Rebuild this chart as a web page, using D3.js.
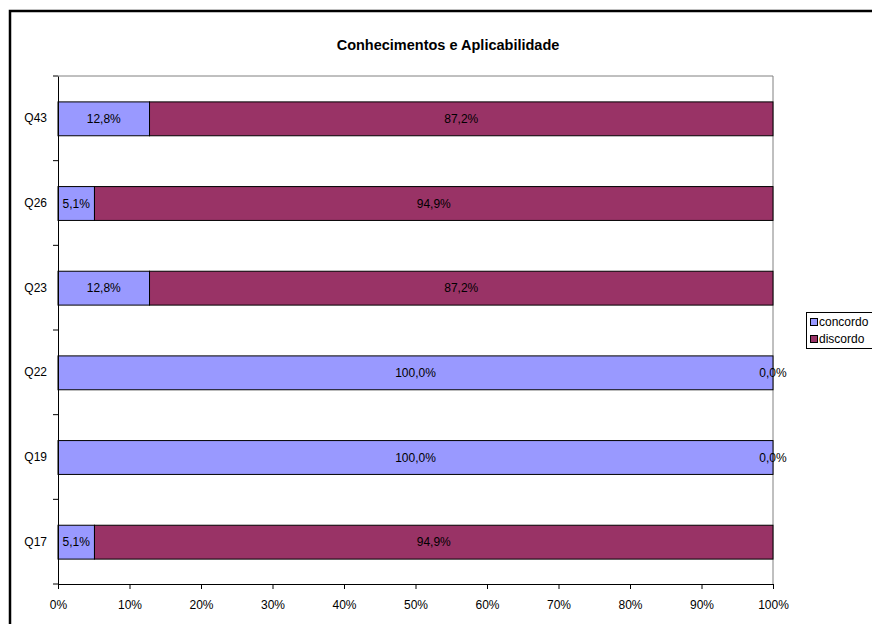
<!DOCTYPE html>
<html><head><meta charset="utf-8">
<script src="https://cdn.jsdelivr.net/npm/d3@7"></script>
<style>body{margin:0;background:#fff}svg{display:block;font-family:"Liberation Sans",Arial,sans-serif}</style>
</head><body><svg id="c" width="872" height="624"></svg>
<script>
const categories = ["Q43","Q26","Q23","Q22","Q19","Q17"];
const concordo = [12.8, 5.1, 12.8, 100.0, 100.0, 5.1];
const discordo = [87.2, 94.9, 87.2, 0.0, 0.0, 94.9];
const seriesNames = ["concordo","discordo"];
const seriesColors = ["#9999FF","#993366"];
const xTicks = [0,10,20,30,40,50,60,70,80,90,100];
const title = "Conhecimentos e Aplicabilidade";

const svg = d3.select("#c");
const m = {l:58, r:872-773, t:76, b:624-584};
const W = 872, H = 624;
// outer frame
svg.append("rect").attr("x",10).attr("y",11).attr("width",W).attr("height",H)
  .attr("fill","none").attr("stroke","#000").attr("stroke-width",2.5);

const x = d3.scaleLinear().domain([0,100]).range([m.l, W-m.r]);
const y = d3.scaleBand().domain(categories).range([m.t, H-m.b]).paddingInner(0.6).paddingOuter(0.3);

// plot area border (top & right gray)
svg.append("line").attr("x1",x(0)).attr("x2",x(100)).attr("y1",m.t).attr("y2",m.t).attr("stroke","#808080");
svg.append("line").attr("x1",x(100)).attr("x2",x(100)).attr("y1",m.t).attr("y2",H-m.b).attr("stroke","#808080");

const fmt = v => v.toFixed(1).replace(".",",") + "%";
const rows = categories.map((c,i)=>({c, vals:[concordo[i], discordo[i]]}));
rows.forEach(r=>{
  let acc = 0;
  r.vals.forEach((v,j)=>{
    const x0 = x(acc), x1 = x(acc+v);
    if (v > 0) {
      svg.append("rect").attr("x",x0).attr("y",y(r.c)+0.5).attr("width",x1-x0).attr("height",y.bandwidth())
        .attr("fill",seriesColors[j]).attr("stroke","#000").attr("stroke-width",1);
    }
    svg.append("text").attr("x",(x0+x1)/2).attr("y",y(r.c)+y.bandwidth()/2+0.5).attr("dy","0.35em")
      .attr("text-anchor","middle").attr("font-size",12).attr("fill","#000").text(fmt(v));
    acc += v;
  });
});

// x axis
const xa = svg.append("g").attr("transform",`translate(0,${H-m.b})`)
  .call(d3.axisBottom(x).tickValues(xTicks).tickFormat(d=>d+"%").tickSizeOuter(0).tickSize(5));
xa.select(".domain").attr("stroke","#000");
xa.selectAll(".tick line").attr("stroke","#000");
xa.selectAll("text").attr("font-size",12).attr("fill","#000").attr("font-family","Liberation Sans, Arial, sans-serif").attr("dy","1.45em");

// y axis
const ya = svg.append("g").attr("transform",`translate(${m.l},0)`)
  .call(d3.axisLeft(y).tickSize(0).tickPadding(11));
ya.select(".domain").attr("stroke","#000");
ya.selectAll("text").attr("font-size",12).attr("fill","#000").attr("font-family","Liberation Sans, Arial, sans-serif");
// y ticks at band boundaries
const bounds = d3.range(categories.length+1).map(i=>m.t + i*(H-m.t-m.b)/categories.length);
svg.selectAll(".yb").data(bounds).join("line").attr("x1",m.l-5).attr("x2",m.l).attr("y1",d=>d).attr("y2",d=>d).attr("stroke","#000");

// title
svg.append("text").attr("x",448).attr("y",45).attr("dy","0.35em").attr("text-anchor","middle")
  .attr("font-size",14.5).attr("font-weight","bold").text(title);

// legend
const lg = svg.append("g");
lg.append("rect").attr("x",806.5).attr("y",312.5).attr("width",66).attr("height",36).attr("fill","#fff").attr("stroke","#000");
seriesNames.forEach((s,i)=>{
  const yy = 322 + i*17;
  lg.append("rect").attr("x",810.5).attr("y",yy-3.5).attr("width",7).attr("height",7).attr("fill",seriesColors[i]).attr("stroke","#000");
  lg.append("text").attr("x",819).attr("y",yy).attr("dy","0.35em").attr("font-size",12).text(s);
});
</script></body></html>
